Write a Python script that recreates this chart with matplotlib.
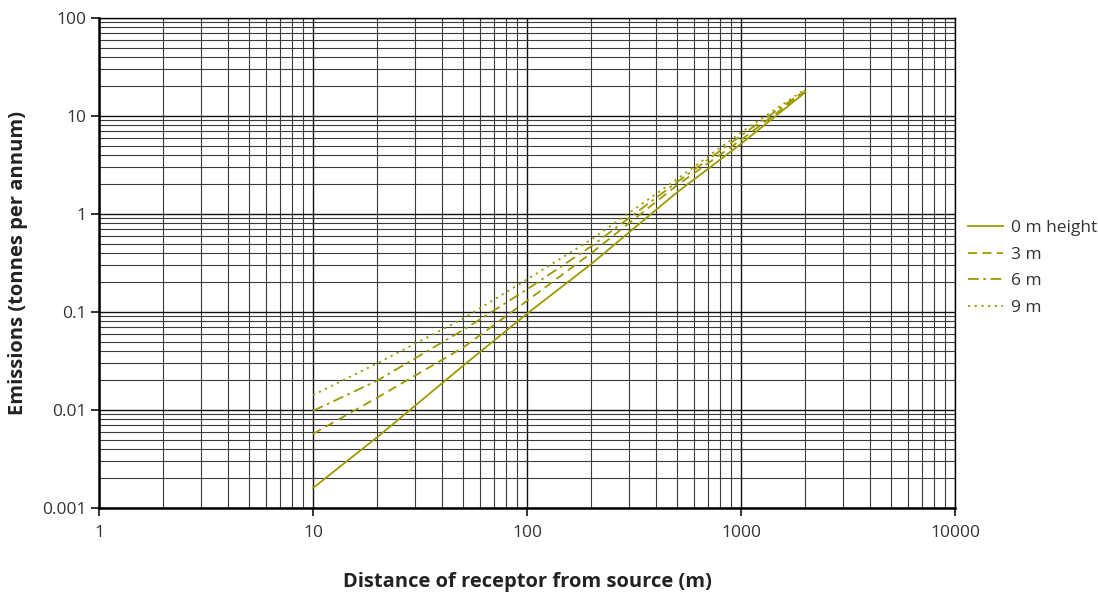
import matplotlib

matplotlib.use("Agg")

import matplotlib.pyplot as plt
from matplotlib.ticker import FuncFormatter, LogLocator, NullFormatter

plt.rcParams["font.family"] = ["Open Sans", "DejaVu Sans"]

distance = [10, 20, 50, 100, 200, 500, 1000, 2000]
emis_0m = [0.0016, 0.0053, 0.028, 0.096, 0.31, 1.65, 5.2, 17.5]
emis_3m = [0.0057, 0.0134, 0.043, 0.13, 0.40, 1.95, 5.7, 17.9]
emis_6m = [0.0098, 0.020, 0.065, 0.17, 0.47, 2.1, 6.3, 18.3]
emis_9m = [0.0142, 0.030, 0.085, 0.215, 0.55, 2.25, 6.8, 18.8]
labels = ["0 m height", "3 m", "6 m", "9 m"]

line_color = "#9c9a00"
text_color = "#333333"

fig = plt.figure(figsize=(10.98, 5.93), dpi=100)
ax = fig.add_axes([99 / 1098, 1 - 508 / 593, (955 - 99) / 1098, (508 - 18) / 593])

styles = ["-", (0, (5, 3)), (0, (6, 2.5, 1.5, 2.5)), (0, (1.2, 2.5))]
for ys, lab, ls in zip([emis_0m, emis_3m, emis_6m, emis_9m], labels, styles):
    ax.plot(distance, ys, color=line_color, linestyle=ls, linewidth=1.3, label=lab)

ax.set_xscale("log")
ax.set_yscale("log")
ax.set_xlim(1, 10000)
ax.set_ylim(0.001, 100)

ax.xaxis.set_major_locator(LogLocator(base=10, numticks=10))
ax.yaxis.set_major_locator(LogLocator(base=10, numticks=10))
ax.xaxis.set_minor_locator(LogLocator(base=10, subs=range(2, 10), numticks=20))
ax.yaxis.set_minor_locator(LogLocator(base=10, subs=range(2, 10), numticks=20))
fmt = FuncFormatter(lambda v, _: f"{v:g}")
ax.xaxis.set_major_formatter(fmt)
ax.yaxis.set_major_formatter(fmt)
ax.xaxis.set_minor_formatter(NullFormatter())
ax.yaxis.set_minor_formatter(NullFormatter())

ax.grid(True, which="major", color="#111111", linewidth=1.0)
ax.grid(True, which="minor", color="#3a3a3a", linewidth=0.8)
ax.set_axisbelow(True)

ax.tick_params(which="major", direction="out", length=6, width=1.2, colors="#111111",
               labelcolor=text_color, labelsize=12.5)
ax.tick_params(which="minor", length=0)
ax.tick_params(axis="x", pad=6)
ax.tick_params(axis="y", pad=3)

for side in ["left", "bottom"]:
    ax.spines[side].set_linewidth(1.8)
for side in ["top", "right"]:
    ax.spines[side].set_linewidth(1.0)

fig.text(527 / 1098, 1 - 582 / 593, "Distance of receptor from source (m)", fontsize=14.5,
         fontweight="bold", color="#222222", ha="center", va="center")
ax.set_ylabel("Emissions (tonnes per annum)", fontsize=14.5, fontweight="bold",
              color="#222222", labelpad=10)

ax.legend(loc="center left", bbox_to_anchor=(0.997, 0.49), frameon=False, fontsize=12.5,
          handlelength=2.0, handletextpad=0.45, labelspacing=0.6, labelcolor=text_color)

fig.savefig("out.png", dpi=100)
